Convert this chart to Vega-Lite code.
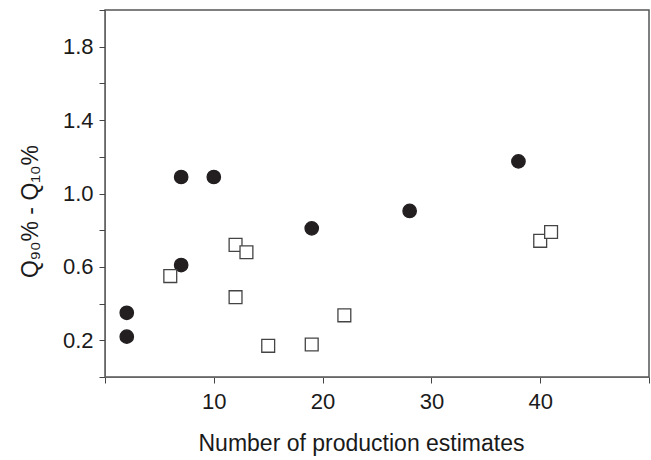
{
  "$schema": "https://vega.github.io/schema/vega-lite/v6.json",
  "autosize": "none",
  "width": 544,
  "height": 367,
  "padding": {"left": 105, "top": 10, "right": 2, "bottom": 83},
  "background": "white",
  "config": {
    "font": "Liberation Sans",
    "view": {"stroke": "#555", "strokeWidth": 1.5}
  },
  "data": {
    "values": [
      {"n": 2, "q": 0.35, "group": "A"},
      {"n": 2, "q": 0.22, "group": "A"},
      {"n": 7, "q": 1.09, "group": "A"},
      {"n": 10, "q": 1.09, "group": "A"},
      {"n": 7, "q": 0.61, "group": "A"},
      {"n": 19, "q": 0.81, "group": "A"},
      {"n": 28, "q": 0.905, "group": "A"},
      {"n": 38, "q": 1.175, "group": "A"},
      {"n": 6, "q": 0.55, "group": "B"},
      {"n": 12, "q": 0.72, "group": "B"},
      {"n": 13, "q": 0.68, "group": "B"},
      {"n": 12, "q": 0.435, "group": "B"},
      {"n": 15, "q": 0.17, "group": "B"},
      {"n": 19, "q": 0.177, "group": "B"},
      {"n": 22, "q": 0.336, "group": "B"},
      {"n": 40, "q": 0.742, "group": "B"},
      {"n": 41, "q": 0.79, "group": "B"}
    ]
  },
  "mark": {"type": "point", "filled": false, "opacity": 1, "strokeWidth": 1.3},
  "encoding": {
    "x": {
      "field": "n", "type": "quantitative",
      "scale": {"domain": [0, 50], "nice": false, "zero": false},
      "axis": {
        "values": [0, 10, 20, 30, 40, 50],
        "labelExpr": "datum.value > 0 && datum.value < 50 ? datum.label : ''",
        "grid": false, "domainColor": "#666", "tickColor": "#444", "tickSize": 6,
        "labelFontSize": 22, "labelColor": "#1a1a1a", "labelPadding": 8,
        "title": "Number of production estimates", "titleFontSize": 23, "titleFontWeight": "normal",
        "titleColor": "#1a1a1a", "titlePadding": 20, "titleX": 256
      }
    },
    "y": {
      "field": "q", "type": "quantitative",
      "scale": {"domain": [0, 2], "nice": false},
      "axis": {
        "values": [0, 0.2, 0.4, 0.6, 0.8, 1.0, 1.2, 1.4, 1.6, 1.8, 2.0],
        "labelExpr": "indexof([0.2, 0.6, 1, 1.4, 1.8], round(datum.value*10)/10) >= 0 ? format(datum.value, '.1f') : ''",
        "grid": false, "domainColor": "#666", "tickColor": "#444", "tickSize": 6,
        "labelFontSize": 22, "labelColor": "#1a1a1a", "labelPadding": 6,
        "title": "Q₉₀% - Q₁₀%", "titleFontSize": 23, "titleFontWeight": "normal",
        "titleColor": "#1a1a1a", "titlePadding": 20, "titleY": 201
      }
    },
    "shape": {
      "field": "group", "type": "nominal",
      "scale": {"domain": ["A", "B"], "range": ["circle", "square"]},
      "legend": null
    },
    "fill": {
      "field": "group", "type": "nominal",
      "scale": {"domain": ["A", "B"], "range": ["#231f20", "white"]},
      "legend": null
    },
    "stroke": {
      "field": "group", "type": "nominal",
      "scale": {"domain": ["A", "B"], "range": ["#231f20", "#444"]},
      "legend": null
    },
    "size": {
      "field": "group", "type": "nominal",
      "scale": {"domain": ["A", "B"], "range": [180, 165]},
      "legend": null
    }
  }
}
